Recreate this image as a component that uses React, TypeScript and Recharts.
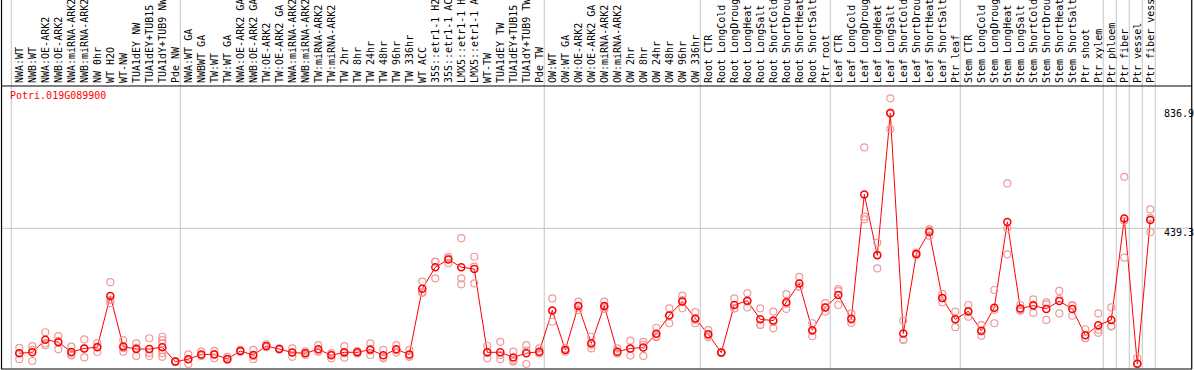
import React from "react";
import { ComposedChart, Line, Scatter, XAxis, YAxis, ReferenceLine } from "recharts";

const categories: string[] = [
  "NWA:WT", "NWB:WT", "NWA:OE-ARK2", "NWB:OE-ARK2", "NWA:miRNA-ARK2", "NWB:miRNA-ARK2", "NW 0hr", "WT H2O", "WT-NW",
  "TUA1dEY NW", "TUA1dEY+TUB15 NW", "TUA1dY+TUB9 NW", "Pde NW",
  "NWA:WT GA", "NWBWT GA", "TW:WT", "TW:WT GA", "NWA:OE-ARK2 GA", "NWB:OE-ARK2 GA", "TW:OE-ARK2", "TW:OE-ARK2 GA",
  "NWA:miRNA-ARK2 GA", "NWB:miRNA-ARK2 GA", "TW:miRNA-ARK2", "TW:miRNA-ARK2 GA", "TW 2hr", "TW 8hr", "TW 24hr", "TW 48hr",
  "TW 96hr", "TW 336hr", "WT ACC", "35S::etr1-1 H2O", "35S::etr1-1 ACC", "LMX5::etr1-1 H2O", "LMX5::etr1-1 ACC", "WT-TW",
  "TUA1dEY TW", "TUA1dEY+TUB15 TW", "TUA1dY+TUB9 TW", "Pde TW",
  "OW:WT", "OW:WT GA", "OW:OE-ARK2", "OW:OE-ARK2 GA", "OW:miRNA-ARK2", "OW:miRNA-ARK2 GA", "OW 2hr", "OW 8hr", "OW 24hr",
  "OW 48hr", "OW 96hr", "OW 336hr",
  "Root CTR", "Root LongCold", "Root LongDrought", "Root LongHeat", "Root LongSalt", "Root ShortCold", "Root ShortDrought",
  "Root ShortHeat", "Root ShortSalt", "Ptr root",
  "Leaf CTR", "Leaf LongCold", "Leaf LongDrought", "Leaf LongHeat", "Leaf LongSalt", "Leaf ShortCold", "Leaf ShortDrought",
  "Leaf ShortHeat", "Leaf ShortSalt", "Ptr leaf",
  "Stem CTR", "Stem LongCold", "Stem LongDrought", "Stem LongHeat", "Stem LongSalt", "Stem ShortCold", "Stem ShortDrought",
  "Stem ShortHeat", "Stem ShortSalt", "Ptr shoot", "Ptr xylem",
  "Ptr phloem", "Ptr fiber", "Ptr vessel", "Ptr fiber vessel",
];

const means: number[] = [
  36, 39, 81, 73, 40, 52, 56, 227, 58, 50, 50, 56, 8,
  16, 32, 32, 17, 43, 30, 60, 50, 38, 36, 49, 29, 39, 39, 48, 29, 49, 32, 251, 323, 349, 323, 317, 39, 39, 22, 36, 41,
  179, 47, 194, 69, 194, 41, 52, 55, 101, 162, 209, 152,
  99, 38, 197, 211, 149, 145, 206, 269, 113, 189,
  230, 151, 566, 363, 836.9, 102, 367, 441, 220, 149,
  176, 111, 188, 474, 185, 195, 184, 210, 184, 96, 129,
  147, 486, 1, 481,
];

const replicates: number[][] = [
  [54, 36, 16], [60, 47, 10], [106, 69, 63], [93, 77, 49], [58, 34, 28], [82, 52, 22], [70, 58, 40], [273, 214, 203],
  [80, 53, 41], [69, 54, 27], [86, 37, 27], [91, 80, 69, 47, 36, 24], [10, 8, 6],
  [32, 16, 0], [41, 28, 27], [44, 33, 19], [24, 14, 13], [47, 41, 41], [47, 27, 16], [66, 58, 56], [52, 50, 48],
  [52, 38, 24], [42, 36, 30], [63, 43, 41], [36, 32, 19], [60, 36, 21], [43, 39, 35], [69, 45, 30], [47, 21, 19],
  [63, 46, 38], [47, 25, 24], [275, 241, 237], [342, 341, 286], [358, 353, 336], [420, 286, 266], [358, 325, 269],
  [61, 37, 19], [74, 30, 16], [41, 13, 8], [63, 45, 0], [52, 36, 35],
  [219, 177, 141], [52, 48, 41], [208, 194, 180], [91, 64, 52], [208, 190, 184], [52, 36, 35], [78, 50, 28],
  [74, 64, 27], [121, 93, 89], [186, 164, 136], [228, 213, 186], [173, 147, 136],
  [113, 95, 89], [40, 38, 36], [219, 186, 186], [236, 208, 189], [186, 131, 130], [175, 141, 119], [233, 201, 184],
  [291, 258, 258], [136, 110, 93], [203, 189, 175],
  [250, 243, 197], [169, 147, 137], [723, 492, 483], [405, 365, 319], [887, 840, 784], [144, 82, 80], [372, 365, 364],
  [450, 445, 428], [234, 220, 206], [175, 149, 123],
  [197, 173, 158], [130, 109, 94], [247, 181, 136], [603, 453, 366], [197, 180, 178], [216, 198, 171], [206, 199, 147],
  [244, 217, 169], [197, 194, 161], [116, 86, 86], [169, 114, 104],
  [189, 127, 125], [625, 478, 355], [20, 2, 0], [516, 487, 440],
];

const groupBoundaries: number[] = [0, 13, 41, 53, 63, 73, 84, 85, 86, 87, 88];
const yTicks: number[] = [0, 439.3, 836.9];
const geneName = "Potri.019G089900";

const X_MIN = -1.4077;
const X_MAX = 90.208;
const Y_MIN = -16.7;
const Y_MAX = 1215.2;
const FRAME_TOP = 928.1;
const MID_GRID = 453;

const chartData = categories.map((c, i) => ({ x: i, mean: means[i], name: c }));
const repData = replicates.flatMap((reps, i) => reps.map((v) => ({ x: i, v })));

const MONO = "'DejaVu Sans Mono', monospace";

const XTick = (props: any) => {
  const { x, payload } = props;
  const tx = x + 4;
  const ty = 83;
  return (
    <text
      x={tx}
      y={ty}
      transform={`rotate(-90, ${tx}, ${ty})`}
      textAnchor="start"
      fontFamily={MONO}
      fontSize={10}
      fill="#000"
    >
      {categories[payload.value]}
    </text>
  );
};

const YTick = (props: any) => {
  const { y, payload } = props;
  return (
    <text x={1164} y={y} dy={3.5} textAnchor="start" fontFamily={MONO} fontSize={10} fill="#000">
      {String(payload.value)}
    </text>
  );
};

const RepDot = (props: any) => (
  <circle cx={props.cx} cy={props.cy} r={3.5} fill="none" stroke="#f09a9a" strokeWidth={1.2} />
);

export default function App() {
  return (
    <div style={{ position: "absolute", left: 0, top: 0, width: 1194, height: 370, background: "#fff" }}>
      <ComposedChart
        width={1194}
        height={370}
        data={chartData}
        margin={{ top: 0, right: 2, bottom: 0, left: 1 }}
      >
        <XAxis
          type="number"
          dataKey="x"
          domain={[X_MIN, X_MAX]}
          ticks={categories.map((_, i) => i)}
          interval={0}
          tick={<XTick />}
          tickLine={false}
          axisLine={{ stroke: "#000" }}
          height={1}
          allowDataOverflow
        />
        <YAxis
          type="number"
          orientation="right"
          mirror
          domain={[Y_MIN, Y_MAX]}
          ticks={yTicks}
          tick={<YTick />}
          tickLine={false}
          axisLine={false}
          allowDataOverflow
        />
        {groupBoundaries.map((b) => (
          <ReferenceLine key={b} x={b - 0.62} stroke="#c4c4c4" strokeWidth={1} />
        ))}
        <ReferenceLine y={MID_GRID} stroke="#c4c4c4" strokeWidth={1} />
        <ReferenceLine y={FRAME_TOP} stroke="#000" strokeWidth={1} />
        <ReferenceLine x={X_MIN + 0.04} stroke="#000" strokeWidth={1.2} />
        <ReferenceLine x={X_MAX - 0.02} stroke="#000" strokeWidth={1.2} />
        <Scatter data={repData} dataKey="v" shape={<RepDot />} isAnimationActive={false} />
        <Line
          type="linear"
          dataKey="mean"
          stroke="#ff0000"
          strokeWidth={1}
          dot={{ r: 3.5, stroke: "#ff0000", strokeWidth: 1.5, fill: "none" }}
          activeDot={false}
          isAnimationActive={false}
        />
      </ComposedChart>
      <div
        style={{
          position: "absolute",
          left: 10,
          top: 91,
          fontFamily: MONO,
          fontSize: 10,
          lineHeight: "10px",
          color: "#ff0000",
          whiteSpace: "nowrap",
        }}
      >
        {geneName}
      </div>
    </div>
  );
}
